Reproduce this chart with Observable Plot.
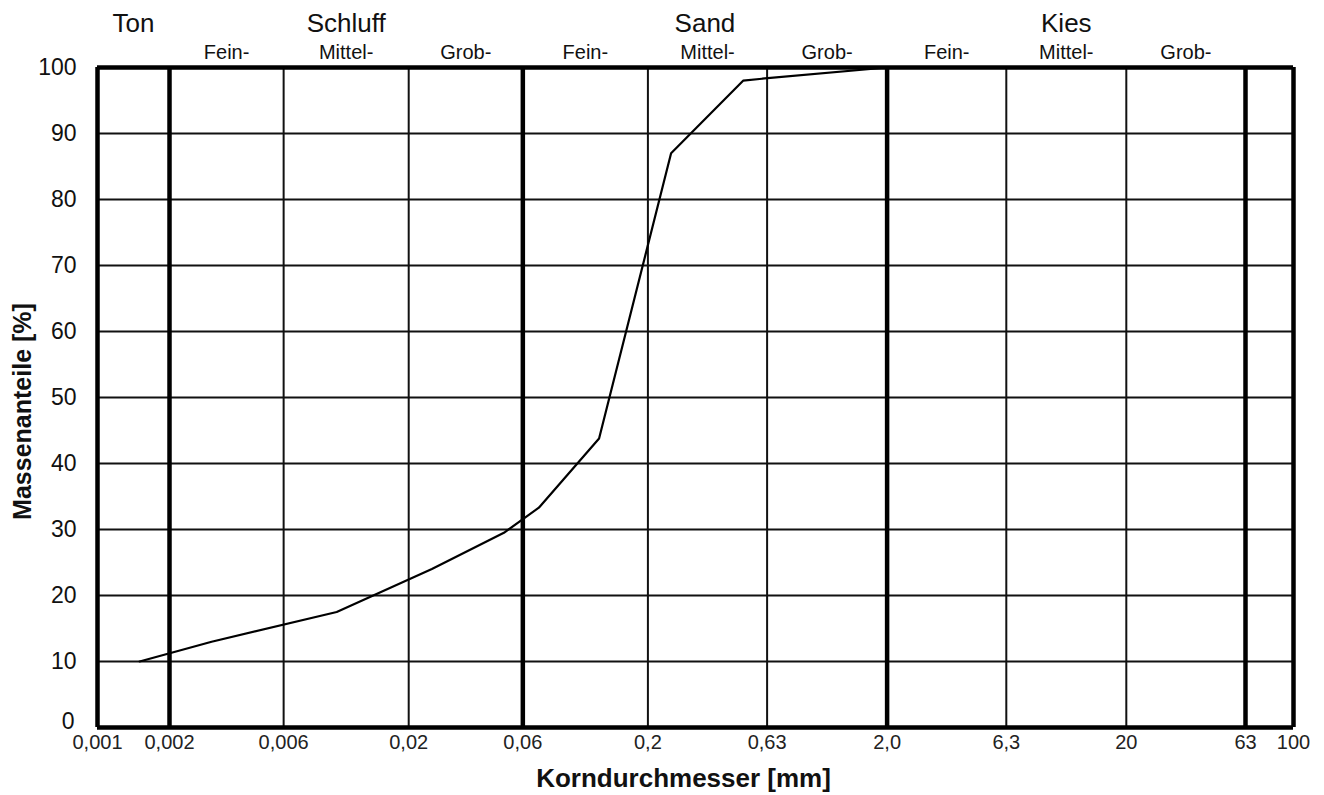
<!DOCTYPE html>
<html>
<head>
<meta charset="utf-8">
<script src="https://cdn.jsdelivr.net/npm/d3@7"></script>
<script src="https://cdn.jsdelivr.net/npm/@observablehq/plot@0.6"></script>
<style>
  html, body { margin: 0; padding: 0; background: #fff; }
  #chart svg { display: block; }
</style>
</head>
<body>
<div id="chart"></div>
<script>
// Grain size distribution (Korngrößenverteilung)
const diameters = [0.0015, 0.003, 0.01, 0.025, 0.05, 0.07, 0.125, 0.25, 0.5, 0.6, 2.0];
const passing   = [10,     13,    17.5, 24,    29.5, 33.3, 43.8,  87,   98,  98.3, 100];

const xTickValues = [0.001, 0.002, 0.006, 0.02, 0.06, 0.2, 0.63, 2, 6.3, 20, 63, 100];
const xTickLabels = ["0,001", "0,002", "0,006", "0,02", "0,06", "0,2", "0,63", "2,0", "6,3", "20", "63", "100"];
const yTickValues = [0, 10, 20, 30, 40, 50, 60, 70, 80, 90, 100];

const thickBounds = [0.001, 0.002, 0.06, 2, 63, 100];
const thinBounds  = [0.006, 0.02, 0.2, 0.63, 6.3, 20];

const mainClasses = ["Ton", "Schluff", "Sand", "Kies"];
const mainLo = [0.001, 0.002, 0.06, 2];
const mainHi = [0.002, 0.06, 2, 63];

const subClasses = ["Fein-", "Mittel-", "Grob-", "Fein-", "Mittel-", "Grob-", "Fein-", "Mittel-", "Grob-"];
const subLo = [0.002, 0.006, 0.02, 0.06, 0.2, 0.63, 2, 6.3, 20];
const subHi = [0.006, 0.02, 0.06, 0.2, 0.63, 2, 6.3, 20, 63];

const xLabel = "Korndurchmesser [mm]";
const yLabel = "Massenanteile [%]";

// tables built from the arrays
const curve = diameters.map((d, i) => ({d, p: passing[i]}));
const xTicks = xTickValues.map((v, i) => ({v, label: xTickLabels[i]}));
const gmean = (a, b) => Math.sqrt(a * b);
const mains = mainClasses.map((name, i) => ({name, x: gmean(mainLo[i], mainHi[i])}));
const subs = subClasses.map((name, i) => ({name, x: gmean(subLo[i], subHi[i])}));

const font = "'Liberation Sans', Arial, Helvetica, sans-serif";
const yLabelStyle = {x: 0.001, y: d => d, text: d => String(d), textAnchor: "end", dx: -21, fontSize: 23, fill: "#111"};

const chart = Plot.plot({
  width: 1324,
  height: 795,
  marginLeft: 97,
  marginRight: 31,
  marginTop: 67,
  marginBottom: 68,
  style: {fontFamily: font, background: "#fff", color: "#000"},
  x: {type: "log", domain: [0.001, 100], axis: null},
  y: {domain: [0, 100], axis: null},
  marks: [
    Plot.ruleY(yTickValues.filter(v => v > 0 && v < 100), {stroke: "#111", strokeWidth: 2}),
    Plot.ruleX(thinBounds, {stroke: "#111", strokeWidth: 2}),
    Plot.ruleX(thickBounds, {stroke: "#000", strokeWidth: 4.5}),
    Plot.ruleY([0, 100], {stroke: "#000", strokeWidth: 4.5}),
    Plot.line(curve, {x: "d", y: "p", stroke: "#000", strokeWidth: 2.2, strokeLinejoin: "miter"}),
    // y tick labels (the "0" sits a little higher, above the "0,001" label)
    Plot.text(yTickValues.filter(v => v > 0), yLabelStyle),
    Plot.text(yTickValues.filter(v => v === 0), {...yLabelStyle, dx: -23, dy: -6}),
    // x tick labels
    Plot.text(xTicks, {x: "v", y: 0, text: "label", dy: 15, fontSize: 20, fill: "#222"}),
    // main class labels
    Plot.text(mains, {x: "x", y: 100, text: "name", dy: -44, fontSize: 26, fill: "#111"}),
    // sub class labels
    Plot.text(subs, {x: "x", y: 100, text: "name", dy: -15, fontSize: 20, fill: "#111"}),
    // axis titles
    Plot.text([xLabel], {frameAnchor: "bottom", lineAnchor: "middle", text: d => d, dy: 51, dx: -12, fontSize: 26, fontWeight: "bold", fill: "#111"}),
    Plot.text([yLabel], {frameAnchor: "left", textAnchor: "middle", lineAnchor: "middle", text: d => d, rotate: -90, dx: -75, dy: 14, fontSize: 25, fontWeight: "bold", fill: "#111"})
  ]
});
document.getElementById("chart").appendChild(chart);
</script>
</body>
</html>
